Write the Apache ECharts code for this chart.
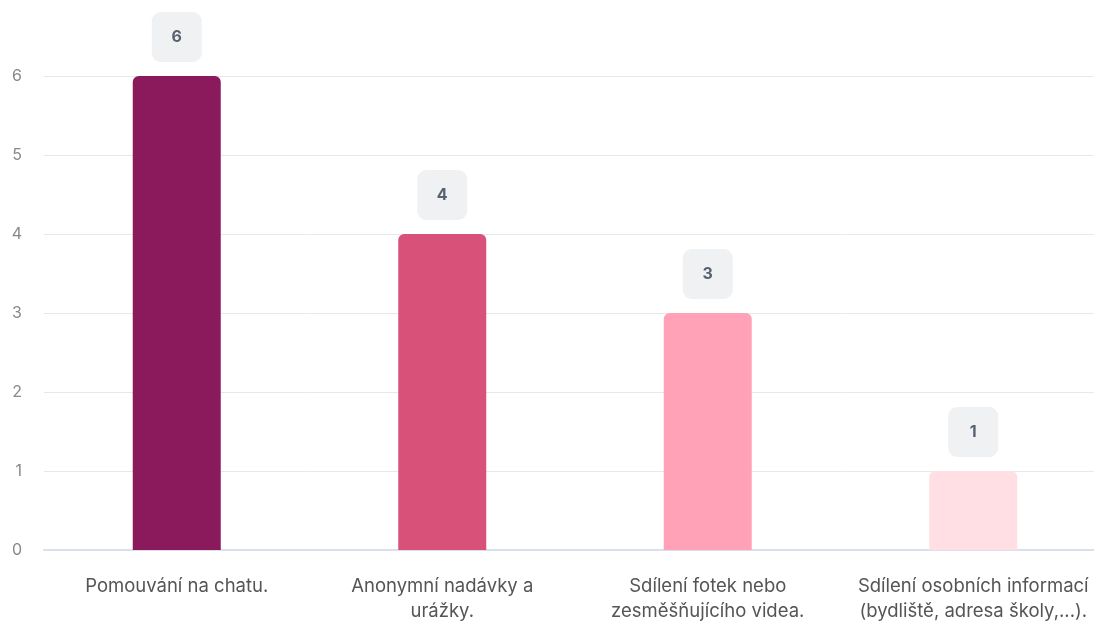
<!DOCTYPE html>
<html>
<head>
<meta charset="utf-8">
<script src="https://cdn.jsdelivr.net/npm/echarts@6/dist/echarts.min.js"></script>
<style>html,body{margin:0;padding:0;background:#fff;overflow:hidden}#c{width:1110px;height:624px}</style>
</head>
<body>
<div id="c"></div>
<script>
const categories = [
  "Pomouvání na chatu.",
  "Anonymní nadávky a\nurážky.",
  "Sdílení fotek nebo\nzesměšňujícího videa.",
  "Sdílení osobních informací\n(bydliště, adresa školy,...)."
];
const values = [6, 4, 3, 1];
const colors = ["#8a1a5c", "#d85178", "#ffa2b8", "#ffdfe3"];
const yTicks = [0, 1, 2, 3, 4, 5, 6];

const chart = echarts.init(document.getElementById('c'));
chart.setOption({
  animation: false,
  textStyle: { fontFamily: 'Inter' },
  grid: { left: 44, top: 76, right: 4, bottom: 71, containLabel: false },
  xAxis: {
    type: 'category',
    data: categories,
    axisTick: { show: false },
    axisLine: { lineStyle: { color: '#d9e0ec', width: 2 } },
    axisLabel: { color: '#555', fontSize: 18.5, lineHeight: 25, margin: 24, interval: 0, fontFamily: 'Inter' }
  },
  yAxis: {
    type: 'value',
    min: yTicks[0],
    max: yTicks[yTicks.length - 1],
    interval: 1,
    axisLabel: { color: '#888', fontSize: 16, margin: 22, fontFamily: 'Inter' },
    splitLine: { lineStyle: { color: '#e6e8eb', width: 1 } },
    axisLine: { show: false },
    axisTick: { show: false }
  },
  series: [{
    type: 'bar',
    barWidth: 88,
    data: values.map((v, i) => ({ value: v, itemStyle: { color: colors[i] } })),
    itemStyle: { borderRadius: [6, 6, 0, 0] },
    label: {
      show: true,
      position: 'top',
      distance: 14,
      color: '#596270',
      fontWeight: 'bold',
      fontSize: 16,
      lineHeight: 16,
      fontFamily: 'Inter',
      backgroundColor: '#eff1f2',
      borderRadius: 9,
      width: 14,
      align: 'center',
      padding: [17, 18]
    }
  }]
});
</script>
</body>
</html>
